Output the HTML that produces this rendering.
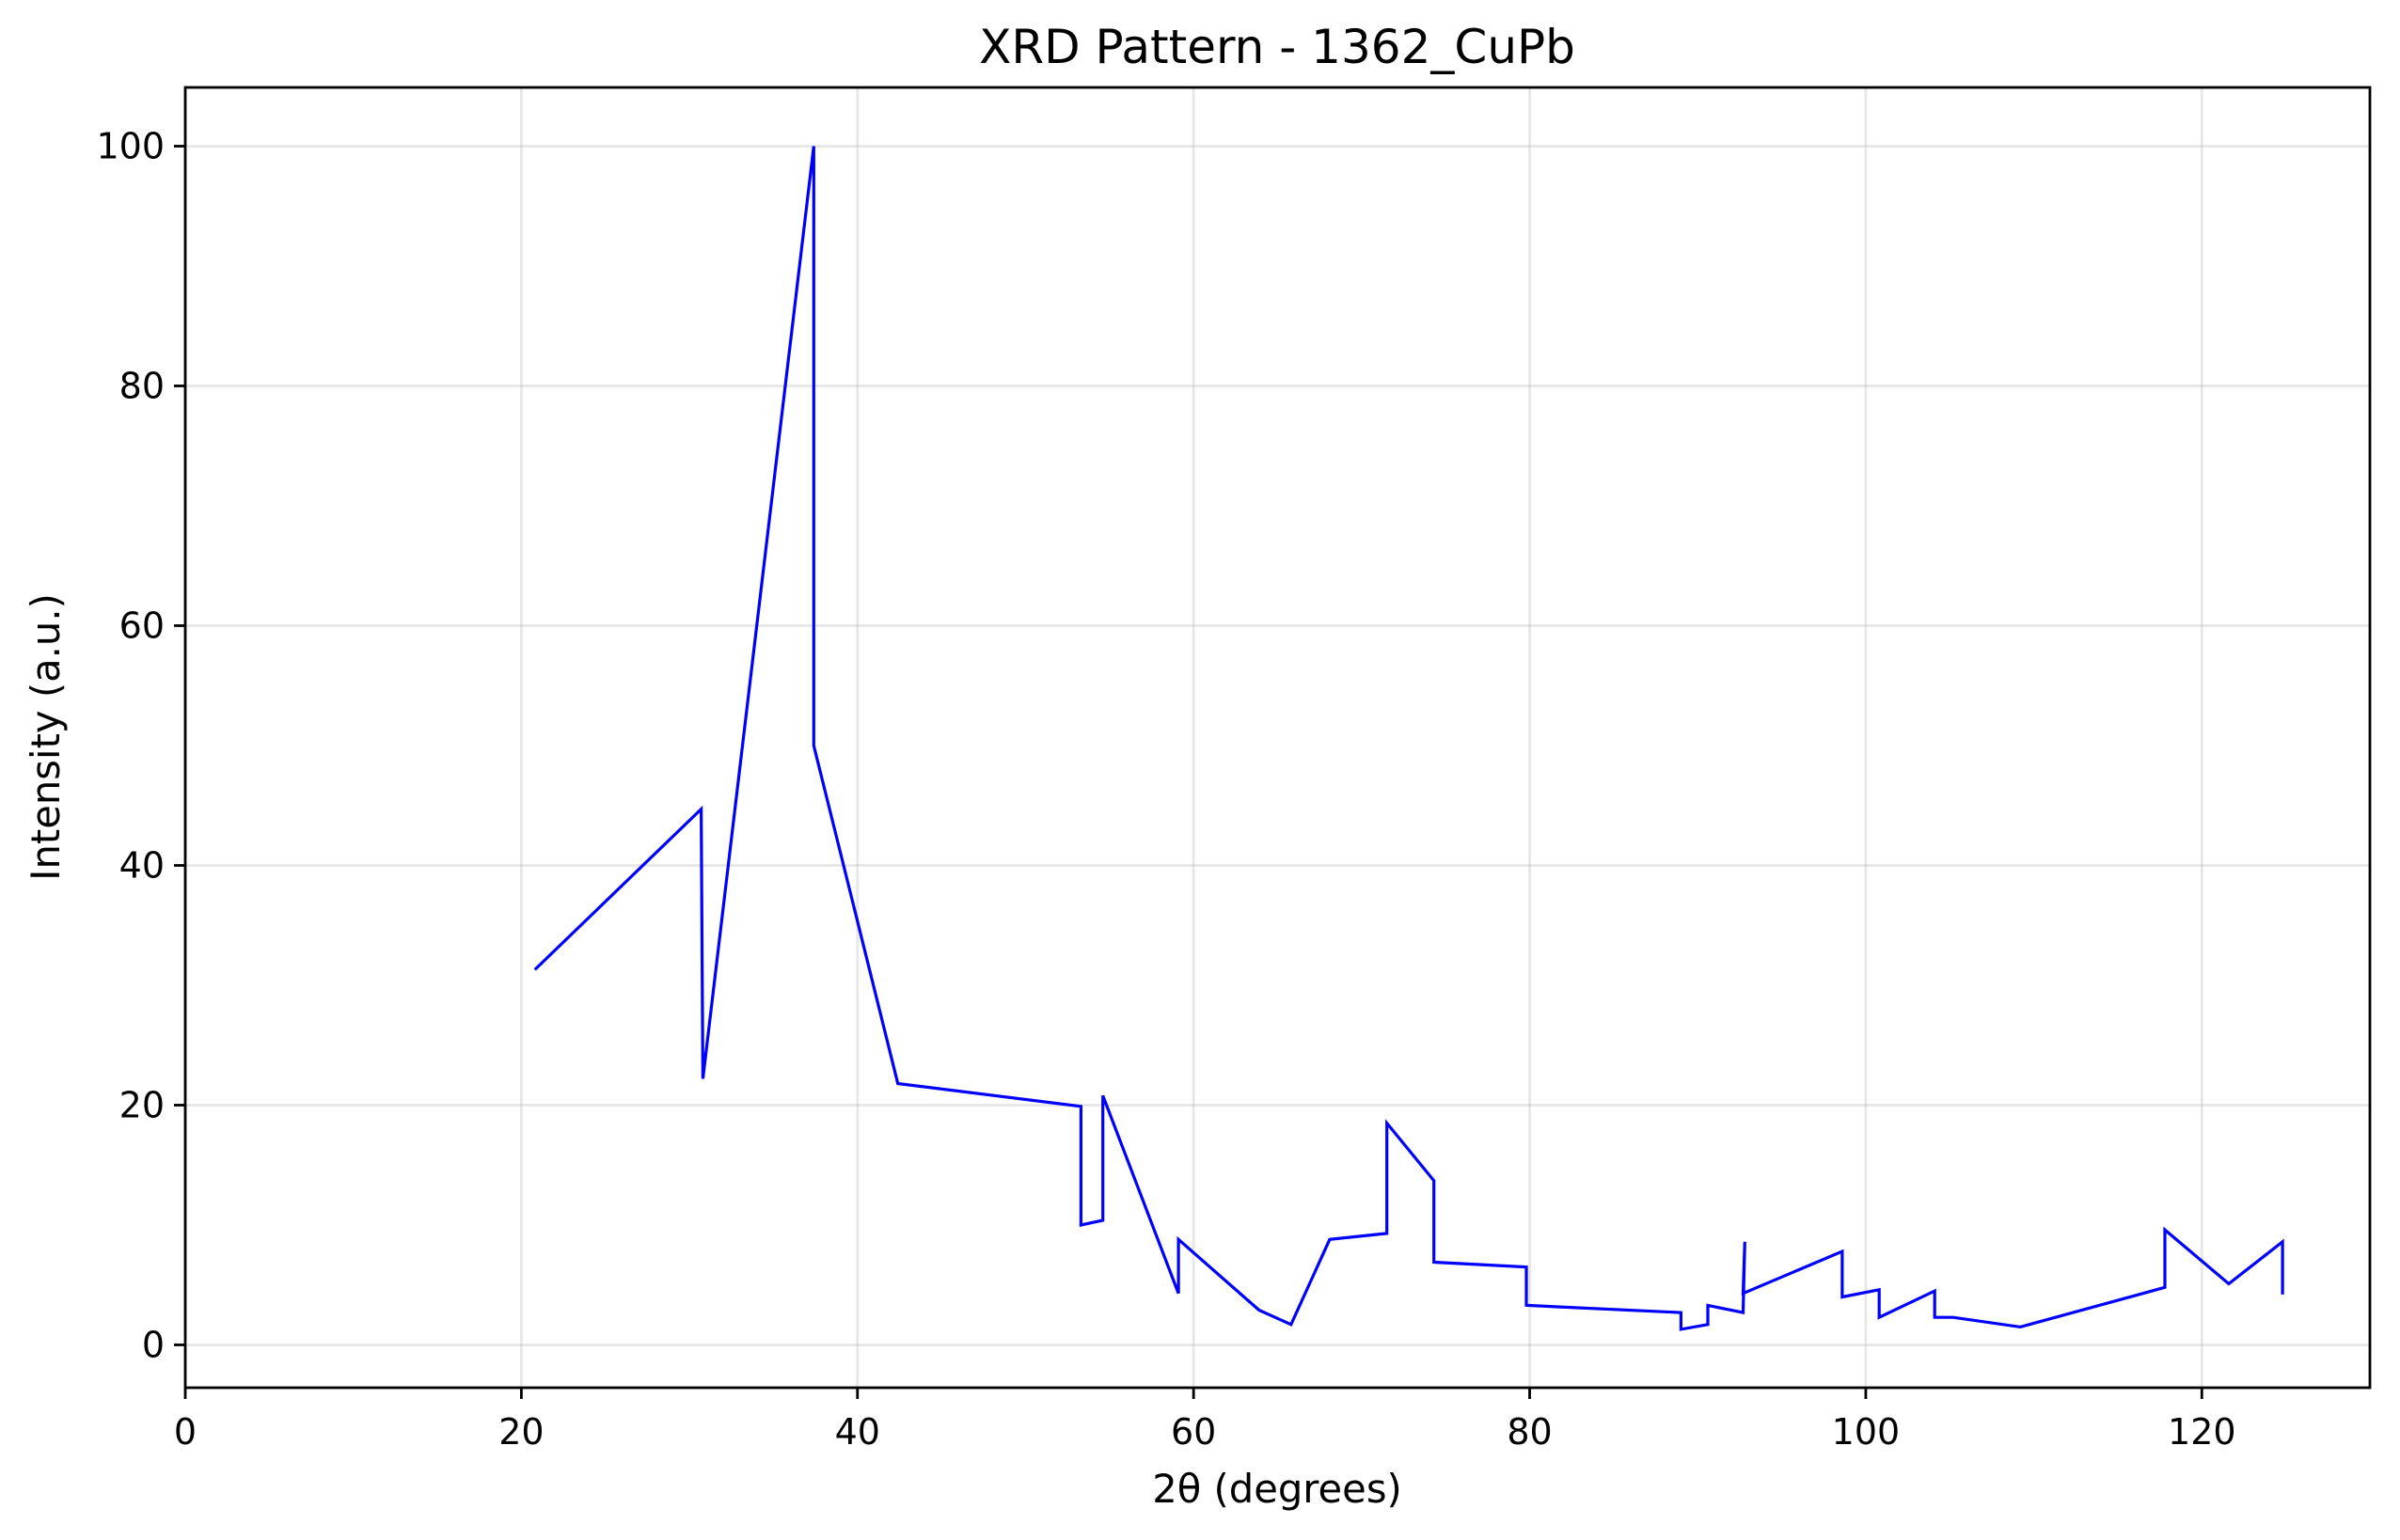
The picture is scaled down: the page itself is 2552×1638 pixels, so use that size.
<!DOCTYPE html>
<html><head><meta charset="utf-8"><style>
html,body{margin:0;padding:0;background:#fff;}
svg{display:block;font-family:"DejaVu Sans","Liberation Sans",sans-serif;}
</style></head><body>
<svg id="chart" width="2552" height="1638" viewBox="0 0 2552 1638">
<rect width="2552" height="1638" fill="#fff"/>
<text x="1358" y="67" font-size="50" text-anchor="middle">XRD Pattern - 1362_CuPb</text>
<text x="1358" y="1598" font-size="41.7" text-anchor="middle">2θ (degrees)</text>
<text x="0" y="0" font-size="41.7" text-anchor="middle" transform="translate(63,784) rotate(-90)">Intensity (a.u.)</text>
<g id="grid"></g>
<g id="series"></g>
<g id="axes"></g>
</svg>
<script>
const xs = [20.8,30.7,30.8,37.4,37.4,42.4,53.3,53.3,54.6,54.6,59.1,59.1,63.9,65.8,68.1,71.5,71.5,74.3,74.3,79.8,79.8,89.0,89.0,90.6,90.6,92.7,92.8,92.7,98.6,98.6,100.8,100.8,104.1,104.1,105.2,109.2,117.8,117.8,121.6,124.8,124.8];
const ys = [31.3,44.7,22.2,100,50,21.8,19.9,10.0,10.4,20.8,4.3,8.8,2.9,1.7,8.8,9.3,18.5,13.7,6.9,6.5,3.3,2.7,1.3,1.7,3.3,2.7,8.6,4.3,7.8,4.0,4.6,2.3,4.5,2.3,2.3,1.5,4.8,9.6,5.1,8.6,4.2];
const xTicks = [0,20,40,60,80,100,120];
const yTicks = [0,20,40,60,80,100];
const L=197,R=2520,T=93,B=1476;
const xMin=0,xMax=130,yMin=-3.57,yMax=104.9;
const sx=v=>L+(v-xMin)/(xMax-xMin)*(R-L);
const sy=v=>B-(v-yMin)/(yMax-yMin)*(B-T);
const NS='http://www.w3.org/2000/svg';
function mk(tag,attrs,parent){const e=document.createElementNS(NS,tag);for(const k in attrs)e.setAttribute(k,attrs[k]);parent.appendChild(e);return e;}
const grid=document.getElementById('grid'),axes=document.getElementById('axes'),series=document.getElementById('series');
xTicks.forEach(t=>{
  const g=mk('line',{x1:sx(t),x2:sx(t),y1:T,y2:B,stroke:'#b0b0b0','stroke-opacity':0.3,'stroke-width':2.8},grid);
  
  
  const tk=mk('line',{x1:sx(t),x2:sx(t),y1:B,y2:B+12,stroke:'#000','stroke-width':2.8},axes);
  
  
  const lb=mk('text',{x:sx(t),y:B+60,'font-size':38,'text-anchor':'middle'},axes);
  lb.textContent=t;
  
  
});
yTicks.forEach(t=>{
  const g=mk('line',{x1:L,x2:R,y1:sy(t),y2:sy(t),stroke:'#b0b0b0','stroke-opacity':0.3,'stroke-width':2.8},grid);
  
  
  const tk=mk('line',{x1:L-12,x2:L,y1:sy(t),y2:sy(t),stroke:'#000','stroke-width':2.8},axes);
  
  
  const lb=mk('text',{x:L-22,y:sy(t)+13,'font-size':38,'text-anchor':'end'},axes);
  lb.textContent=t;
  
  
});
const pts=xs.map((x,i)=>sx(x).toFixed(1)+','+sy(ys[i]).toFixed(1)).join(' ');
const pl=mk('polyline',{points:pts,fill:'none',stroke:'#0000ff','stroke-width':3.2,'stroke-linejoin':'miter'},series);


const fr=mk('rect',{x:L,y:T,width:R-L,height:B-T,fill:'none',stroke:'#000','stroke-width':2.8},axes);


</script>
</body></html>
